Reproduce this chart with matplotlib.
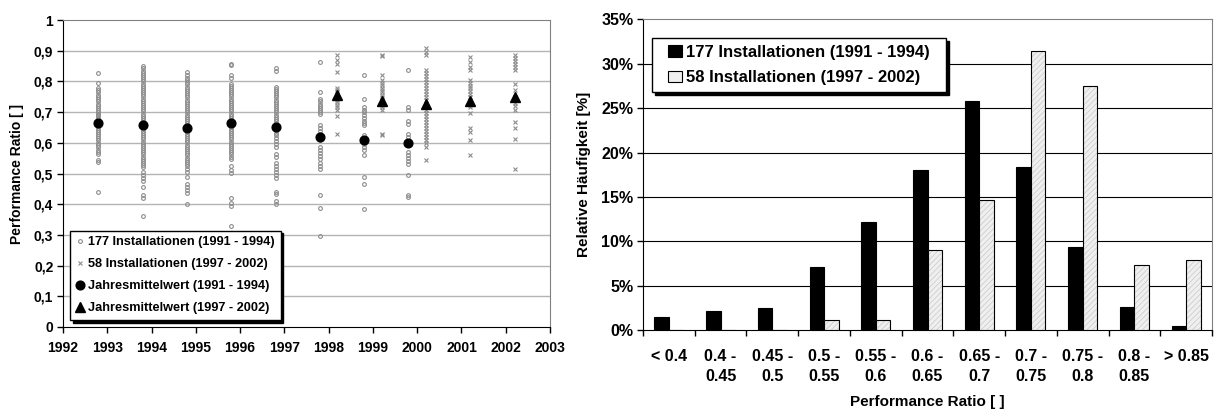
import matplotlib.pyplot as plt
import numpy as np
from matplotlib.ticker import FuncFormatter, FixedLocator
from matplotlib.legend_handler import HandlerPatch

plt.rcParams['font.family'] = ['Liberation Sans', 'DejaVu Sans']
plt.rcParams['font.weight'] = 'bold'
plt.rcParams['axes.labelweight'] = 'bold'
plt.rcParams['hatch.linewidth'] = 0.5

# --- left chart: performance ratio per installation and year ---
years_old = [1992.8, 1993.8, 1994.8, 1995.8, 1996.8, 1997.8, 1998.8, 1999.8]
pr_old = [
    [0.827, 0.795, 0.78, 0.772, 0.765, 0.757, 0.748, 0.742, 0.735, 0.728, 0.72, 0.714,
     0.708, 0.70, 0.695, 0.69, 0.684, 0.678, 0.672, 0.667, 0.66, 0.655, 0.648, 0.642,
     0.636, 0.63, 0.623, 0.615, 0.608, 0.60, 0.592, 0.585, 0.578, 0.57, 0.562, 0.545,
     0.538, 0.44],
    [0.85, 0.843, 0.835, 0.828, 0.82, 0.814, 0.807, 0.80, 0.793, 0.786, 0.779, 0.772,
     0.765, 0.758, 0.751, 0.744, 0.737, 0.73, 0.723, 0.716, 0.709, 0.702, 0.695, 0.688,
     0.681, 0.674, 0.667, 0.66, 0.653, 0.646, 0.639, 0.632, 0.625, 0.618, 0.611, 0.604,
     0.597, 0.59, 0.583, 0.576, 0.569, 0.562, 0.555, 0.548, 0.541, 0.534, 0.527, 0.52,
     0.505, 0.495, 0.485, 0.475, 0.455, 0.43, 0.42, 0.36],
    [0.832, 0.822, 0.812, 0.804, 0.797, 0.79, 0.783, 0.776, 0.769, 0.762, 0.755, 0.748,
     0.741, 0.734, 0.727, 0.72, 0.713, 0.706, 0.699, 0.692, 0.685, 0.678, 0.671, 0.664,
     0.657, 0.65, 0.643, 0.636, 0.629, 0.622, 0.615, 0.608, 0.601, 0.594, 0.587, 0.58,
     0.573, 0.566, 0.559, 0.552, 0.545, 0.538, 0.531, 0.524, 0.515, 0.505, 0.49, 0.465,
     0.455, 0.445, 0.435, 0.40],
    [0.857, 0.854, 0.82, 0.81, 0.793, 0.786, 0.779, 0.772, 0.765, 0.758, 0.751, 0.744,
     0.737, 0.73, 0.723, 0.716, 0.709, 0.702, 0.695, 0.688, 0.681, 0.674, 0.667, 0.66,
     0.653, 0.646, 0.639, 0.632, 0.625, 0.618, 0.611, 0.604, 0.597, 0.59, 0.583, 0.576,
     0.569, 0.562, 0.555, 0.548, 0.525, 0.512, 0.503, 0.42, 0.405, 0.395, 0.33],
    [0.845, 0.835, 0.782, 0.776, 0.769, 0.762, 0.755, 0.748, 0.741, 0.734, 0.727, 0.72,
     0.713, 0.706, 0.699, 0.692, 0.685, 0.678, 0.671, 0.664, 0.657, 0.65, 0.643, 0.632,
     0.624, 0.615, 0.605, 0.595, 0.585, 0.565, 0.555, 0.535, 0.525, 0.515, 0.505, 0.495,
     0.485, 0.44, 0.432, 0.41, 0.402],
    [0.862, 0.766, 0.742, 0.735, 0.728, 0.721, 0.714, 0.707, 0.70, 0.693, 0.657, 0.648,
     0.638, 0.629, 0.62, 0.61, 0.587, 0.578, 0.568, 0.558, 0.548, 0.535, 0.525, 0.516,
     0.43, 0.387, 0.297],
    [0.82, 0.742, 0.717, 0.708, 0.699, 0.69, 0.681, 0.672, 0.663, 0.658, 0.625, 0.615,
     0.605, 0.595, 0.585, 0.575, 0.56, 0.49, 0.467, 0.383],
    [0.837, 0.715, 0.707, 0.67, 0.66, 0.63, 0.62, 0.57, 0.56, 0.55, 0.54, 0.53, 0.495,
     0.43, 0.424],
]
mean_old = [0.666, 0.659, 0.649, 0.663, 0.652, 0.618, 0.609, 0.600]

years_new = [1998.2, 1999.2, 2000.2, 2001.2, 2002.2]
pr_new = [
    [0.886, 0.87, 0.858, 0.83, 0.78, 0.772, 0.764, 0.756, 0.748, 0.74, 0.732, 0.724,
     0.716, 0.707, 0.687, 0.63],
    [0.886, 0.882, 0.82, 0.804, 0.796, 0.788, 0.78, 0.772, 0.764, 0.756, 0.748, 0.74,
     0.732, 0.724, 0.716, 0.707, 0.625, 0.63],
    [0.908, 0.897, 0.886, 0.837, 0.828, 0.818, 0.808, 0.798, 0.788, 0.778, 0.768, 0.758,
     0.748, 0.738, 0.728, 0.718, 0.708, 0.698, 0.688, 0.678, 0.668, 0.658, 0.648, 0.638,
     0.628, 0.618, 0.608, 0.598, 0.587, 0.543],
    [0.88, 0.864, 0.848, 0.837, 0.804, 0.795, 0.786, 0.777, 0.768, 0.759, 0.75, 0.741,
     0.732, 0.723, 0.717, 0.696, 0.647, 0.636, 0.609, 0.56],
    [0.886, 0.876, 0.866, 0.856, 0.846, 0.837, 0.793, 0.772, 0.75, 0.74, 0.73, 0.72,
     0.707, 0.668, 0.647, 0.614, 0.516],
]
mean_new = [0.755, 0.737, 0.727, 0.737, 0.750]

# --- right chart: histogram of performance ratio ---
categories = ['< 0.4', '0.4 -\n0.45', '0.45 -\n0.5', '0.5 -\n0.55', '0.55 -\n0.6',
              '0.6 -\n0.65', '0.65 -\n0.7', '0.7 -\n0.75', '0.75 -\n0.8', '0.8 -\n0.85',
              '> 0.85']
freq_old = [1.5, 2.1, 2.5, 7.1, 12.2, 18.0, 25.8, 18.4, 9.3, 2.6, 0.45]
freq_new = [0.0, 0.0, 0.0, 1.1, 1.1, 9.0, 14.6, 31.5, 27.5, 7.3, 7.9]

W, H = 1214, 412
fig = plt.figure(figsize=(W / 100, H / 100), dpi=100)
GRAY = '#8c8c8c'

# left panel
ax1 = fig.add_axes([63 / W, (H - 327) / H, 487 / W, 307 / H])
for x, vals in zip(years_old, pr_old):
    ax1.plot([x] * len(vals), vals, 'o', ms=2.7, mfc='none', mec=GRAY, mew=0.8,
             ls='none')
for x, vals in zip(years_new, pr_new):
    ax1.plot([x] * len(vals), vals, 'x', ms=3.0, color=GRAY, mew=0.8, ls='none')
ax1.plot(years_old, mean_old, 'o', ms=6.3, color='black', ls='none')
ax1.plot(years_new, mean_new, '^', ms=6.5, color='black', ls='none')

ax1.set_xlim(1992, 2003)
ax1.set_ylim(0, 1)
ax1.set_xticks(range(1992, 2004))
ax1.set_yticks(np.arange(0, 1.01, 0.1))
ax1.yaxis.set_major_formatter(FuncFormatter(
    lambda v, p: str(int(round(v))) if round(v, 2) in (0, 1) else f'{v:.1f}'.replace('.', ',')))
for y in np.arange(0.1, 0.95, 0.1):
    ax1.axhline(y, color='#b4b4b4', lw=1, zorder=0)
ax1.tick_params(axis='x', labelsize=10, length=4, width=1, direction='out', pad=6)
ax1.tick_params(axis='y', labelsize=10, length=4, width=1, direction='out', pad=3)
for s in ['top', 'right']:
    ax1.spines[s].set_color('#808080')
for s in ['left', 'bottom']:
    ax1.spines[s].set_color('black')
ax1.set_ylabel('Performance Ratio [ ]', fontsize=10, labelpad=7)

h = [
    plt.Line2D([], [], marker='o', ms=2.7, mfc='none', mec=GRAY, mew=0.8, ls='none'),
    plt.Line2D([], [], marker='x', ms=3.0, color=GRAY, mew=0.8, ls='none'),
    plt.Line2D([], [], marker='o', ms=6.3, color='black', ls='none'),
    plt.Line2D([], [], marker='^', ms=6.5, color='black', ls='none'),
]
lg1 = ax1.legend(h, ['177 Installationen (1991 - 1994)', '58 Installationen (1997 - 2002)',
                     'Jahresmittelwert (1991 - 1994)', 'Jahresmittelwert (1997 - 2002)'],
                 loc='lower left', bbox_to_anchor=(0.014, 0.023), fontsize=9.2,
                 frameon=True, fancybox=False, edgecolor='black', framealpha=1,
                 shadow={'color': 'black', 'alpha': 1}, handlelength=0.7,
                 handletextpad=0.3, borderpad=0.45, labelspacing=0.78,
                 borderaxespad=0)
lg1.get_frame().set_linewidth(1)

# right panel
ax2 = fig.add_axes([643 / W, (H - 330) / H, 569 / W, 310.5 / H])
idx = np.arange(len(categories))
bw = 0.28
ax2.bar(idx - bw / 2, freq_old, bw, color='black', edgecolor='black', lw=0.8, zorder=3)
ax2.bar(idx + bw / 2, freq_new, bw, color='#efefef', edgecolor='#c8c8c8', lw=0,
        hatch='//////', zorder=3)
ax2.bar(idx + bw / 2, freq_new, bw, fill=False, edgecolor='black', lw=0.8, zorder=4)
ax2.set_xlim(-0.5, len(categories) - 0.5)
ax2.set_ylim(0, 35)
ax2.set_yticks(range(0, 36, 5))
ax2.yaxis.set_major_formatter(FuncFormatter(lambda v, p: f'{int(v)}%'))
for y in range(5, 35, 5):
    ax2.axhline(y, color='black', lw=0.8, zorder=0)
ax2.xaxis.set_major_locator(FixedLocator(np.arange(-0.5, len(categories), 1)))
ax2.xaxis.set_minor_locator(FixedLocator(idx))
ax2.set_xticklabels([])
ax2.set_xticklabels(categories, minor=True)
ax2.tick_params(axis='x', which='minor', length=0, labelsize=11.5, pad=14)
ax2.tick_params(axis='x', which='major', length=4, width=1, direction='out')
ax2.tick_params(axis='y', labelsize=11.5, length=4, width=1, direction='out', pad=3)
for lab in ax2.get_xticklabels(minor=True):
    lab.set_linespacing(1.4)
for s in ['top', 'right']:
    ax2.spines[s].set_color('#808080')
for s in ['left', 'bottom']:
    ax2.spines[s].set_color('black')
ax2.set_ylabel('Relative Häufigkeit [%]', fontsize=11, labelpad=7)
ax2.set_xlabel('Performance Ratio [ ]', fontsize=11, labelpad=8)


def small_box(legend, orig_handle, xdescent, ydescent, width, height, fontsize):
    # square handle sitting in the right part of the handle slot
    return plt.Rectangle((-xdescent + width * 0.4, -ydescent), width * 0.6, height)


old_handle = plt.Rectangle((0, 0), 1, 1, facecolor='black', edgecolor='black', lw=0.8)
new_handle = plt.Rectangle((0, 0), 1, 1, facecolor='#efefef', edgecolor='black', lw=0.8)
lg2 = ax2.legend([old_handle, new_handle],
                 ['177 Installationen (1991 - 1994)  ', '58 Installationen (1997 - 2002)  '],
                 handler_map={plt.Rectangle: HandlerPatch(patch_func=small_box)},
                 loc='upper left', bbox_to_anchor=(0.016, 0.94), fontsize=12,
                 frameon=True, fancybox=False, edgecolor='black', framealpha=1,
                 shadow={'color': 'black', 'alpha': 1}, handlelength=1.4,
                 handleheight=0.7, handletextpad=0.2, borderpad=0.42,
                 labelspacing=0.62, borderaxespad=0)
lg2.get_frame().set_linewidth(1)

fig.savefig('out.png', dpi=100)
